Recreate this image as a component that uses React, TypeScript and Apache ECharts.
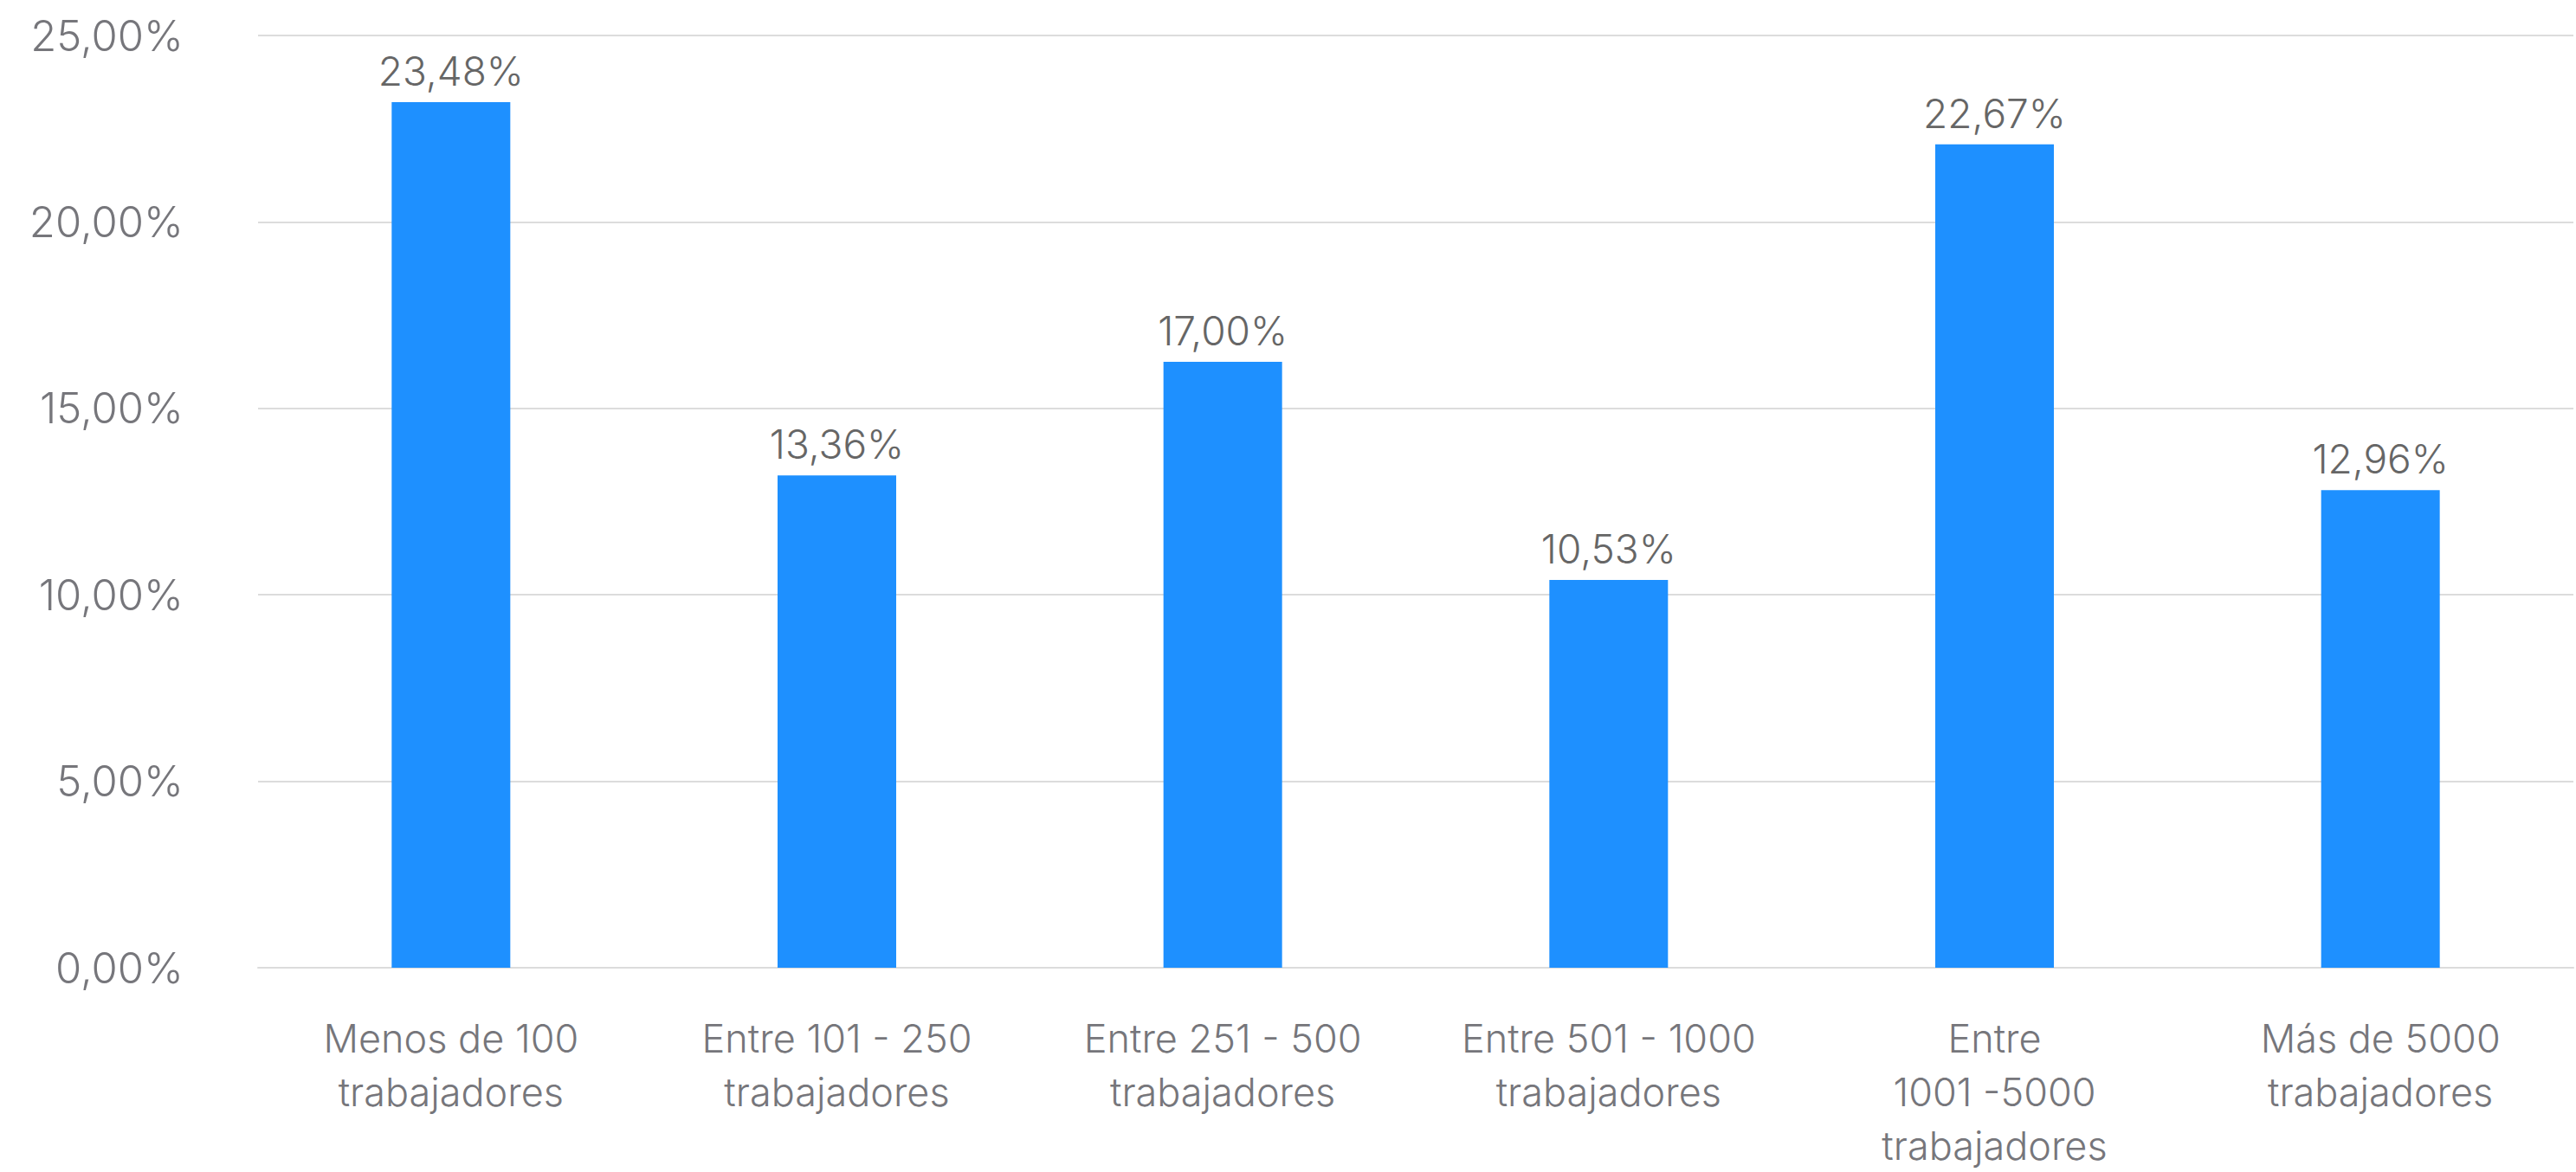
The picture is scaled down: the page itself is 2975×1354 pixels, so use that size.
import React, { useEffect, useRef } from "react";
import * as echarts from "echarts";

const categories = [
  "Menos de 100\ntrabajadores",
  "Entre 101 - 250\ntrabajadores",
  "Entre 251 - 500\ntrabajadores",
  "Entre 501 - 1000\ntrabajadores",
  "Entre\n1001 -5000\ntrabajadores",
  "Más de 5000\ntrabajadores",
];
// bar heights as drawn in the picture
const barValues = [23.21, 13.2, 16.25, 10.4, 22.08, 12.81];
// labels printed above bars
const barLabels = ["23,48%", "13,36%", "17,00%", "10,53%", "22,67%", "12,96%"];
const yTicks = { min: 0, max: 25, interval: 5 };

const FONT = "Inter, 'Noto Sans', sans-serif";

export default function App() {
  const ref = useRef<HTMLDivElement>(null);
  useEffect(() => {
    document.body.style.margin = "0";
    const chart = echarts.init(ref.current!, undefined, { renderer: "svg" });
    chart.setOption({
      animation: false,
      backgroundColor: "#ffffff",
      grid: { left: 298, right: 3, top: 41, bottom: 232, containLabel: false },
      xAxis: {
        type: "category",
        data: categories,
        axisLine: { show: true, lineStyle: { color: "#dcdcdc", width: 2 } },
        axisTick: { show: false },
        axisLabel: {
          interval: 0,
          margin: 50,
          fontFamily: FONT,
          fontWeight: 300,
          fontSize: 45,
          lineHeight: 62,
          color: "#76767b",
        },
      },
      yAxis: {
        type: "value",
        min: yTicks.min,
        max: yTicks.max,
        interval: yTicks.interval,
        axisLine: { show: false },
        axisTick: { show: false },
        splitLine: { lineStyle: { color: "#dcdcdc", width: 2 } },
        axisLabel: {
          margin: 86,
          fontFamily: FONT,
          fontWeight: 300,
          fontSize: 49,
          color: "#76767b",
          formatter: (v: number) => v.toFixed(2).replace(".", ",") + "%",
        },
      },
      series: [
        {
          type: "bar",
          data: barValues,
          barWidth: 137,
          itemStyle: { color: "#1E90FF" },
          label: {
            show: true,
            position: "top",
            distance: 13,
            fontFamily: FONT,
            fontWeight: 300,
            fontSize: 46,
            color: "#666666",
            formatter: (p: any) => barLabels[p.dataIndex],
          },
        },
      ],
    });
    return () => chart.dispose();
  }, []);
  return <div ref={ref} style={{ width: 2975, height: 1354 }} />;
}
